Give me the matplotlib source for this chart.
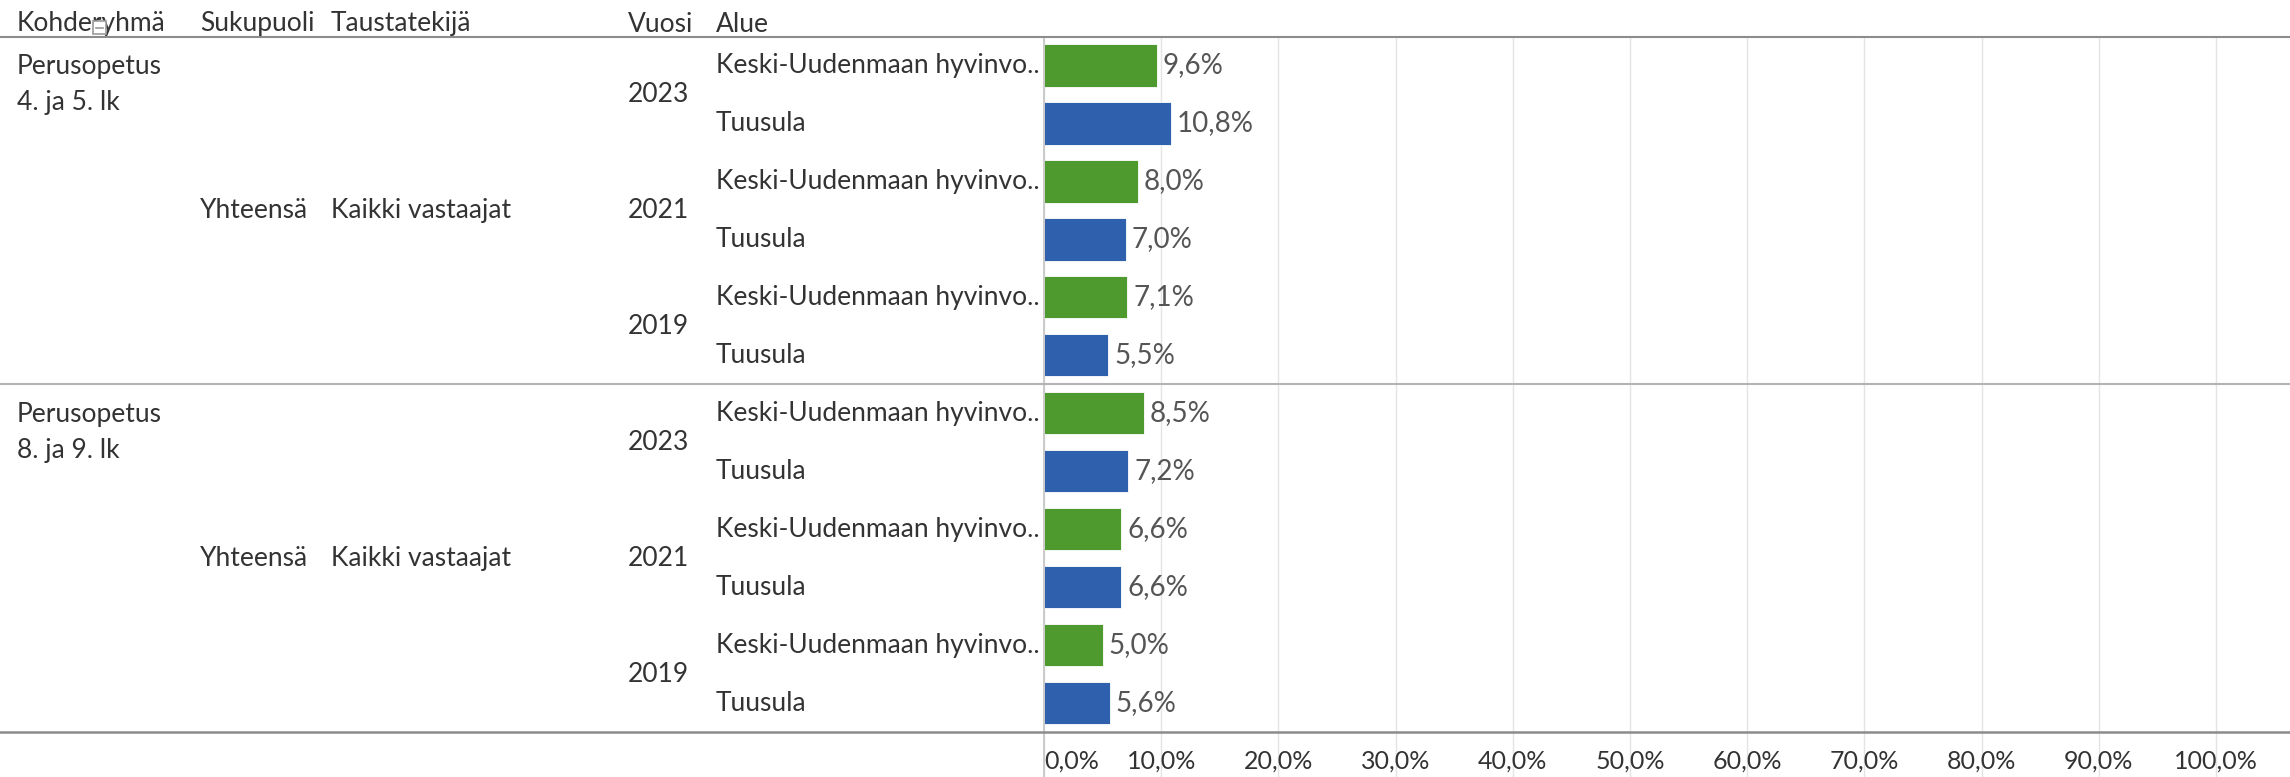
import matplotlib.pyplot as plt
from matplotlib import transforms
from matplotlib.patches import Rectangle

plt.rcParams['font.family'] = ['Lato', 'DejaVu Sans']

# data
kohderyhma = ["Perusopetus\n4. ja 5. lk", "Perusopetus\n8. ja 9. lk"]
sukupuoli = ["Yhteensä", "Yhteensä"]
taustatekija = ["Kaikki vastaajat", "Kaikki vastaajat"]
vuodet = ["2023", "2021", "2019"]
alueet = ["Keski-Uudenmaan hyvinvo..", "Tuusula"]
keski_uusimaa = [[9.6, 8.0, 7.1], [8.5, 6.6, 5.0]]
tuusula = [[10.8, 7.0, 5.5], [7.2, 6.6, 5.6]]
headers = ["Kohderyhmä", "Sukupuoli", "Taustatekijä", "Vuosi", "Alue"]
xticks = list(range(0, 101, 10))

GREEN = "#4f9a2f"
BLUE = "#2e60ad"
TXT = "#333333"
FS = 19

W, H = 2290, 777
fig = plt.figure(figsize=(W / 100, H / 100), dpi=100)
top_px, bot_px, left_px = 36.5, 732, 1044
ax = fig.add_axes([left_px / W, 1 - bot_px / H, 1 - left_px / W, (bot_px - top_px) / H])

n_rows = len(kohderyhma) * len(vuodet) * len(alueet)
ax.set_ylim(n_rows - 0.5, -0.5)
ax.set_xlim(0, 100 * (W - left_px) / (2216 - left_px))

row = 0
for s in range(len(kohderyhma)):
    for y in range(len(vuodet)):
        for a, (vals, col) in enumerate([(keski_uusimaa, GREEN), (tuusula, BLUE)]):
            v = vals[s][y]
            ax.barh(row, v, height=0.73, color=col, edgecolor="white", linewidth=0.6, zorder=3)
            ax.text(v + 0.5, row, f"{v:.1f}".replace(".", ",") + "%", va="center", ha="left",
                    fontsize=FS + 1, color="#555555", zorder=4)
            row += 1

# grid and frame
gx = ax.get_xaxis_transform()
for t in xticks:
    ax.plot([t, t], [-0.07, 1], transform=gx, color="#e4e4e4", lw=1, ls="-", clip_on=False, zorder=1)
ax.plot([0, 0], [-0.07, 1], transform=gx, color="#c8c8c8", lw=1.3, clip_on=False, zorder=5)
for sp in ax.spines.values():
    sp.set_visible(False)
ax.set_yticks([])
ax.set_xticks(xticks)
ax.set_xticklabels([f"{t},0%" for t in xticks], fontsize=FS - 1, color=TXT)
ax.tick_params(axis="x", length=0, pad=13)
ax.get_xticklabels()[0].set_ha("left")

# left table text
lt = transforms.blended_transform_factory(fig.transFigure, ax.transData)
col_x = [17 / W, 200 / W, 331 / W, 628 / W, 716 / W]
for hx, h in zip(col_x, headers):
    fig.text(hx, 1 - 24 / H, h, fontsize=FS, color=TXT, va="center", ha="left")

# little sort icon on the first header
fig.add_artist(Rectangle((93 / W, 1 - 34 / H), 13 / W, 13 / H, transform=fig.transFigure,
                         facecolor="white", edgecolor="#9a9a9a", lw=1.2, zorder=10))
fig.add_artist(plt.Line2D([96 / W, 103 / W], [1 - 28 / H, 1 - 28 / H], transform=fig.transFigure,
                          color="#9a9a9a", lw=1.2, zorder=11))

rows_per_sec = len(vuodet) * len(alueet)
for s in range(len(kohderyhma)):
    base = s * rows_per_sec
    ax.text(col_x[0], base - 0.5 + 0.3, kohderyhma[s], transform=lt, fontsize=FS, color=TXT,
            va="top", ha="left", linespacing=1.55)
    mid = base + (rows_per_sec - 1) / 2
    ax.text(col_x[1], mid, sukupuoli[s], transform=lt, fontsize=FS, color=TXT, va="center")
    ax.text(col_x[2], mid, taustatekija[s], transform=lt, fontsize=FS, color=TXT, va="center")
    for y, yr in enumerate(vuodet):
        ax.text(col_x[3], base + y * 2 + 0.5, yr, transform=lt, fontsize=FS, color=TXT, va="center")
        for a, al in enumerate(alueet):
            ax.text(col_x[4], base + y * 2 + a, al, transform=lt, fontsize=FS, color=TXT, va="center")

# horizontal rules
for yy, c, lw in [(-0.5, "#8c8c8c", 1.5), (rows_per_sec - 0.5, "#b4b4b4", 1.5), (n_rows - 0.5, "#8c8c8c", 1.8)]:
    ax.plot([0, 1], [yy, yy], transform=lt, color=c, lw=lw, clip_on=False, zorder=6)

fig.savefig("out.png", dpi=100)
